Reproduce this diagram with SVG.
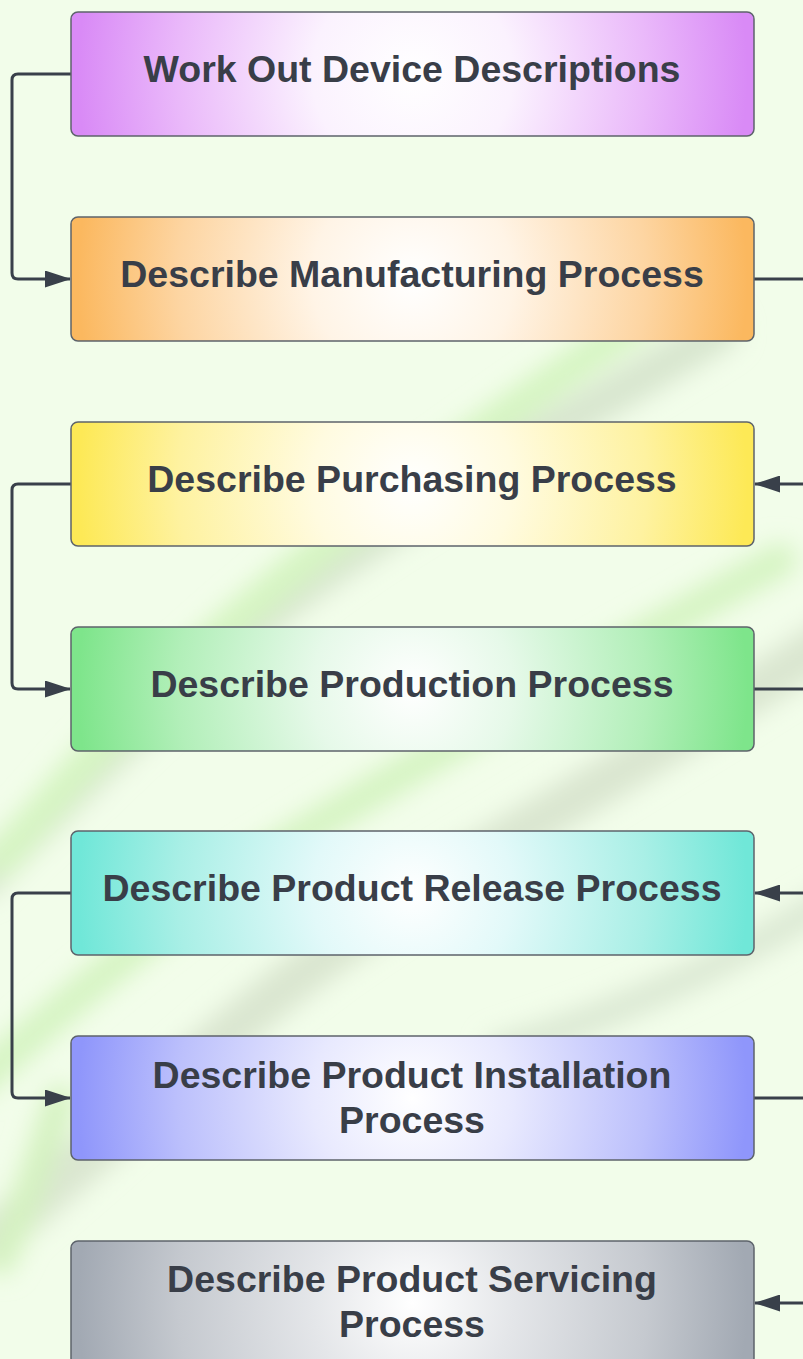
<svg xmlns="http://www.w3.org/2000/svg" width="803" height="1359" viewBox="0 0 803 1359">
<style>
.box{stroke:#5d636b;stroke-width:1.5}
.lbl{font-family:"Liberation Sans",Arial,sans-serif;font-weight:bold;font-size:37.5px;fill:#393e48;text-anchor:middle}
.con{fill:none;stroke:#39404a;stroke-width:3;stroke-linejoin:round}
.wm{fill:none;stroke-linecap:round}
.s0{stop-color:#ffffff}
</style>
<defs>
<radialGradient id="gPurple" gradientUnits="userSpaceOnUse" cx="412.5" cy="74" r="335"><stop offset="0" class="s0"/><stop offset="0.3" stop-color="#fbf2fe"/><stop offset="0.7" stop-color="#eab9fa"/><stop offset="1" stop-color="#d98af6"/></radialGradient>
<radialGradient id="gOrange" gradientUnits="userSpaceOnUse" cx="412.5" cy="279" r="335"><stop offset="0" class="s0"/><stop offset="0.3" stop-color="#fff4e6"/><stop offset="0.7" stop-color="#fdd5a2"/><stop offset="1" stop-color="#fbb85f"/></radialGradient>
<radialGradient id="gYellow" gradientUnits="userSpaceOnUse" cx="412.5" cy="484" r="335"><stop offset="0" class="s0"/><stop offset="0.3" stop-color="#fffbe0"/><stop offset="0.7" stop-color="#fef2a0"/><stop offset="1" stop-color="#fde956"/></radialGradient>
<radialGradient id="gGreen" gradientUnits="userSpaceOnUse" cx="412.5" cy="689" r="335"><stop offset="0" class="s0"/><stop offset="0.3" stop-color="#e6f9e9"/><stop offset="0.7" stop-color="#b2efb9"/><stop offset="1" stop-color="#7ee58b"/></radialGradient>
<radialGradient id="gCyan" gradientUnits="userSpaceOnUse" cx="412.5" cy="893" r="335"><stop offset="0" class="s0"/><stop offset="0.3" stop-color="#e2f9f9"/><stop offset="0.7" stop-color="#a9efe6"/><stop offset="1" stop-color="#70e7d8"/></radialGradient>
<radialGradient id="gBlue" gradientUnits="userSpaceOnUse" cx="412.5" cy="1098" r="335"><stop offset="0" class="s0"/><stop offset="0.3" stop-color="#e8e9fe"/><stop offset="0.7" stop-color="#bcc0fc"/><stop offset="1" stop-color="#8f96fb"/></radialGradient>
<radialGradient id="gGrey" gradientUnits="userSpaceOnUse" cx="412.5" cy="1303" r="335"><stop offset="0" class="s0"/><stop offset="0.3" stop-color="#e4e6e9"/><stop offset="0.7" stop-color="#c5c9cf"/><stop offset="1" stop-color="#a2a9b3"/></radialGradient>
<marker id="arr" viewBox="0 0 26 17" refX="25" refY="8.5" markerWidth="26" markerHeight="17" markerUnits="userSpaceOnUse" orient="auto">
<path d="M0,0 L26,8.5 L0,17 Z" fill="#39404a"/>
</marker>
<filter id="blur" x="-20%" y="-20%" width="140%" height="140%"><feGaussianBlur stdDeviation="12"/></filter>
</defs>
<rect width="803" height="1359" fill="#f2fdea"/>
<g id="watermark" filter="url(#blur)">
<path class="wm" d="M720,330 C560,430 380,520 260,620 C160,700 60,800 -20,880" stroke="#d8e6cf" stroke-width="40"/>
<path class="wm" d="M640,320 C480,430 320,540 190,660 C120,720 60,790 0,860" stroke="#d6f5c2" stroke-width="34"/>
<path class="wm" d="M830,640 C650,760 460,860 320,960 C200,1050 100,1150 -10,1240" stroke="#dae6d0" stroke-width="45"/>
<path class="wm" d="M780,560 C600,660 420,760 260,860 C150,930 60,1010 -20,1080" stroke="#d6f4c3" stroke-width="34"/>
<path class="wm" d="M830,900 C700,980 600,1020 500,1050" stroke="#dce9d4" stroke-width="30"/>
<path class="wm" d="M60,1100 C40,1160 20,1220 0,1260" stroke="#d4f2c0" stroke-width="30"/>
</g>
<g id="connectors">
<path class="con" d="M71,74 H18 Q12,74 12,80 V273 Q12,279 18,279 H70" marker-end="url(#arr)"/>
<path class="con" d="M754,279 H815 V484 H755" marker-end="url(#arr)"/>
<path class="con" d="M71,484 H18 Q12,484 12,490 V683 Q12,689 18,689 H70" marker-end="url(#arr)"/>
<path class="con" d="M754,689 H815 V893 H755" marker-end="url(#arr)"/>
<path class="con" d="M71,893 H18 Q12,893 12,899 V1092 Q12,1098 18,1098 H70" marker-end="url(#arr)"/>
<path class="con" d="M754,1098 H815 V1303 H755" marker-end="url(#arr)"/>
</g>
<g id="n1"><rect class="box" x="71" y="12" width="683" height="124" rx="7" fill="url(#gPurple)"/><text class="lbl" x="412" y="82">Work Out Device Descriptions</text></g>
<g id="n2"><rect class="box" x="71" y="217" width="683" height="124" rx="7" fill="url(#gOrange)"/><text class="lbl" x="412" y="287">Describe Manufacturing Process</text></g>
<g id="n3"><rect class="box" x="71" y="422" width="683" height="124" rx="7" fill="url(#gYellow)"/><text class="lbl" x="412" y="492">Describe Purchasing Process</text></g>
<g id="n4"><rect class="box" x="71" y="627" width="683" height="124" rx="7" fill="url(#gGreen)"/><text class="lbl" x="412" y="697">Describe Production Process</text></g>
<g id="n5"><rect class="box" x="71" y="831" width="683" height="124" rx="7" fill="url(#gCyan)"/><text class="lbl" x="412" y="901">Describe Product Release Process</text></g>
<g id="n6"><rect class="box" x="71" y="1036" width="683" height="124" rx="7" fill="url(#gBlue)"/><text class="lbl" x="412" y="1088">Describe Product Installation</text><text class="lbl" x="412" y="1133">Process</text></g>
<g id="n7"><rect class="box" x="71" y="1241" width="683" height="124" rx="7" fill="url(#gGrey)"/><text class="lbl" x="412" y="1292">Describe Product Servicing</text><text class="lbl" x="412" y="1337">Process</text></g>
</svg>
